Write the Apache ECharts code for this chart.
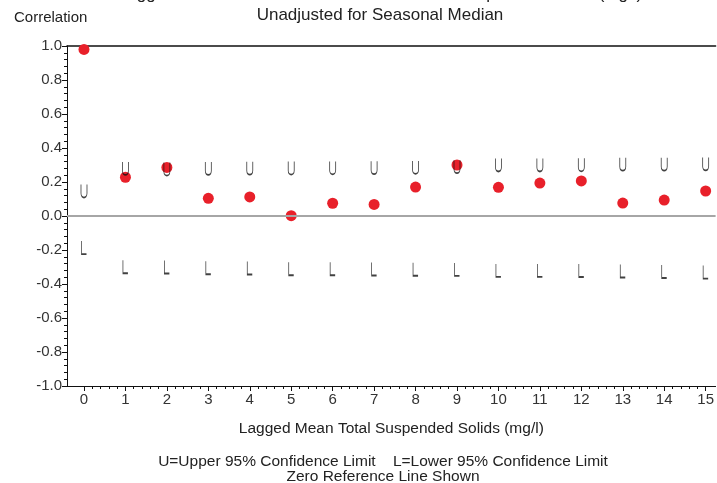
<!DOCTYPE html>
<html>
<head>
<meta charset="utf-8">
<script src="https://cdn.jsdelivr.net/npm/echarts@6/dist/echarts.min.js"></script>
<style>
html,body{margin:0;padding:0;background:#fff;}
#chart{width:717px;height:483px;}
</style>
</head>
<body>
<div id="chart"></div>
<script>
// lags 0..15
var lags = [0,1,2,3,4,5,6,7,8,9,10,11,12,13,14,15];
var corr = [0.980,0.228,0.286,0.104,0.112,0.002,0.075,0.068,0.170,0.300,0.169,0.194,0.206,0.076,0.094,0.147];
var upper = [0.147,0.280,0.276,0.280,0.281,0.282,0.283,0.284,0.286,0.290,0.300,0.300,0.301,0.305,0.305,0.306];
var lower = [-0.186,-0.298,-0.300,-0.304,-0.306,-0.310,-0.310,-0.312,-0.313,-0.314,-0.320,-0.320,-0.321,-0.324,-0.326,-0.330];

var font = 'Liberation Sans, Arial, sans-serif';
var textCol = '#222';

function pairs(ys){
    return lags.map(function(x,i){ return [x, ys[i]]; });
}

var minorX = [];
for (var k = 0; k < 15; k++) {
    for (var m = 1; m < 5; m++) minorX.push(k + m * 0.2);
}

var myChart = echarts.init(document.getElementById('chart'));
var option = {
    backgroundColor: '#fff',
    animation: false,
    textStyle: {fontFamily: font},
    title: [
        {
            text: 'Lagged Cross-Correlation of Flow and Mean Suspended Solids (mg/l)',
            left: 375, top: -19, textAlign: 'center',
            textStyle: {fontSize: 17, fontWeight: 'normal', color: textCol, fontFamily: font}
        },
        {
            text: 'Unadjusted for Seasonal Median',
            left: 375, top: 2, textAlign: 'center',
            textStyle: {fontSize: 17, fontWeight: 'normal', color: textCol, fontFamily: font}
        },
        {
            text: 'Correlation',
            left: 9, top: 5,
            textStyle: {fontSize: 15, fontWeight: 'normal', color: textCol, fontFamily: font}
        },
        {
            text: 'U=Upper 95% Confidence Limit    L=Lower 95% Confidence Limit',
            left: 378, top: 449, textAlign: 'center',
            textStyle: {fontSize: 15.5, fontWeight: 'normal', color: textCol, fontFamily: font}
        },
        {
            text: 'Zero Reference Line Shown',
            left: 378, top: 464, textAlign: 'center',
            textStyle: {fontSize: 15.5, fontWeight: 'normal', color: textCol, fontFamily: font}
        }
    ],
    grid: {left: 67, top: 46, right: 0, bottom: 97},
    xAxis: [
        {
            type: 'value',
            min: -0.41,
            max: 15.24,
            position: 'bottom',
            name: 'Lagged Mean Total Suspended Solids (mg/l)',
            nameLocation: 'middle',
            nameGap: 35,
            nameTextStyle: {fontSize: 15.5, color: textCol, fontFamily: font},
            axisLine: {show: true, onZero: false, lineStyle: {color: '#111', width: 1}},
            axisTick: {show: true, length: 5, customValues: lags, lineStyle: {color: '#111'}},
            axisLabel: {customValues: lags, fontSize: 15, color: '#333', margin: 6, fontFamily: font},
            splitLine: {show: false}
        },
        {
            type: 'value',
            min: -0.41,
            max: 15.24,
            position: 'bottom',
            axisLine: {show: false, onZero: false},
            axisTick: {show: true, length: 3, customValues: minorX, lineStyle: {color: '#111'}},
            axisLabel: {show: false},
            splitLine: {show: false}
        },
        {
            type: 'value',
            min: -0.41,
            max: 15.24,
            position: 'top',
            axisLine: {show: true, onZero: false, lineStyle: {color: '#111', width: 1.5}},
            axisTick: {show: false},
            axisLabel: {show: false},
            splitLine: {show: false}
        }
    ],
    yAxis: {
        type: 'value',
        min: -1,
        max: 1,
        interval: 0.2,
        axisLine: {show: true, onZero: false, lineStyle: {color: '#111', width: 1}},
        axisTick: {show: true, length: 5, lineStyle: {color: '#111'}},
        minorTick: {show: true, splitNumber: 5, length: 3, lineStyle: {color: '#111'}},
        axisLabel: {
            fontSize: 15, color: '#333', margin: 5, fontFamily: font,
            formatter: function(v){ return v.toFixed(1); }
        },
        splitLine: {show: false}
    },
    series: [
        {
            name: 'Correlation',
            type: 'scatter',
            data: pairs(corr),
            symbol: 'circle',
            symbolSize: 11,
            itemStyle: {color: '#e8202a', opacity: 1},
            z: 3,
            markLine: {
                silent: true,
                symbol: 'none',
                label: {show: false},
                lineStyle: {color: '#a6a6a6', width: 2, type: 'solid'},
                data: [{yAxis: 0}]
            }
        },
        {
            name: 'Upper',
            type: 'scatter',
            data: pairs(upper),
            symbol: 'path://M0,0 L0,8 C0,13 6,13 6,8 L6,0',
            symbolSize: [6, 13],
            itemStyle: {color: 'transparent', borderColor: '#111', borderWidth: 1.2},
            z: 4
        },
        {
            name: 'Lower',
            type: 'scatter',
            data: pairs(lower),
            symbol: 'path://M0,0 L0,12 L5,12',
            symbolSize: [5, 13],
            itemStyle: {color: 'transparent', borderColor: '#111', borderWidth: 1.2},
            z: 4
        }
    ]
};
myChart.setOption(option);
</script>
</body>
</html>
